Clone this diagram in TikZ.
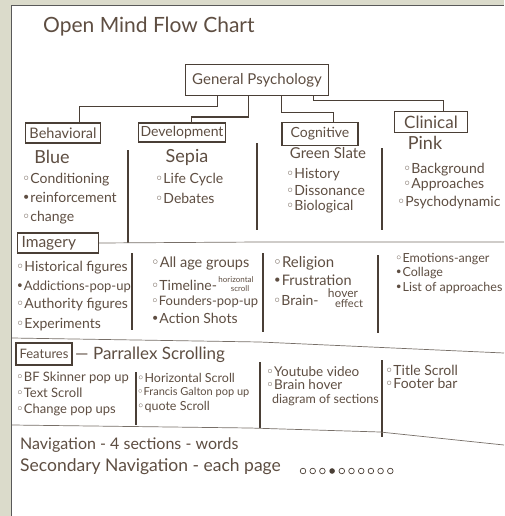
\documentclass[tikz,border=0pt]{standalone}
\usepackage{fontspec}
\setmainfont{Lato}
\newfontfamily\dejavu{DejaVu Sans}
\definecolor{ink}{HTML}{4A3F36}
\definecolor{pencil}{HTML}{5E4E42}
\definecolor{frame}{HTML}{DBDBCB}
\newcommand\ob{{\dejavu\char"25E6}}
\newcommand\fb{{\dejavu\char"2022}}
\newcommand\fsz[1]{\fontsize{#1}{#1}\selectfont}
\begin{document}
\begin{tikzpicture}[x=1pt,y=-1pt,
  txt/.style={anchor=west,inner sep=0pt,text=pencil,font=\fsz{14}},
  sub/.style={inner sep=0pt,text=pencil,font=\fsz{18}},
  cat/.style={draw=ink,line width=1.1pt,inner sep=2pt,text=pencil,font=\fsz{14.5}},
  vline/.style={draw=ink,line width=1.4pt},
  hline/.style={draw=ink!75,line width=0.7pt},
  conn/.style={draw=ink,line width=1pt}]
\useasboundingbox (0,0) rectangle (504,516);
\fill[frame] (0,0) rectangle (504,516);
\fill[white] (11,5) rectangle (504,516);
\draw[gray!70!black,line width=0.8pt] (11,516) -- (11,5) -- (504,5);

% title
\node[txt,font=\fsz{21}] (title) at (43,27) {Open Mind Flow Chart};

% hierarchy
\node[cat,minimum width=143,minimum height=31,font=\fsz{15}] (gp) at (257,80) {General Psychology};
\node[cat,minimum width=75,minimum height=20] (beh) at (63,133) {Behavioral};
\node[cat,minimum width=80,minimum height=19,font=\fsz{14}] (dev) at (182,132.5) {Development};
\node[cat,minimum width=76,minimum height=23,font=\fsz{14}] (cog) at (320,134) {Cognitive};
\node[cat,minimum width=73,minimum height=21,font=\fsz{17}] (cli) at (431,122) {Clinical};

\coordinate (j1) at (217,107); \coordinate (k1) at (79,107);
\coordinate (j2) at (248,117); \coordinate (k2) at (191,117);
\coordinate (j3) at (281,113); \coordinate (k3) at (333,113);
\coordinate (j4) at (313,101); \coordinate (k4) at (443,101);
\draw[conn] (gp.south -| j1) -- (j1) -- (k1) -- (k1 |- beh.north);
\draw[conn] (gp.south -| j2) -- (j2) -- (k2) -- (k2 |- dev.north);
\draw[conn] (gp.south -| j3) -- (j3) -- (k3) -- (k3 |- cog.north);
\draw[conn] (gp.south -| j4) -- (j4) -- (k4) -- (k4 |- cli.north);

\node[sub] (blue) at (52,157) {Blue};
\node[sub] (sepia) at (187,157) {Sepia};
\node[sub,font=\fsz{15}] (green) at (328,153) {Green Slate};
\node[sub] (pink) at (425,143) {Pink};

% top section items
\node[txt] (b1) at (22,180) {\ob Conditioning};
\node[txt] (b2) at (22,197) {\fb reinforcement};
\node[txt] (b3) at (22,218) {\ob change};
\node[txt] (d1) at (155,180) {\ob Life Cycle};
\node[txt] (d2) at (155,198) {\ob Debates};
\node[txt] (c1) at (286,175) {\ob History};
\node[txt] (c2) at (286,190) {\ob Dissonance};
\node[txt] (c3) at (286,207) {\ob Biological};
\node[txt] (p1) at (403,170) {\ob Background};
\node[txt] (p2) at (403,185) {\ob Approaches};
\node[txt] (p3) at (397,203) {\ob Psychodynamic};

\draw[vline] (128,150) -- (128,243);
\draw[vline] (257,143) -- (257,230);
\draw[vline] (382,148) -- (382,230);

% imagery section
\node[cat,anchor=west,minimum height=20,inner xsep=4pt,text width=73,align=left,font=\fsz{15.5}] (img) at (17,243) {Imagery};
\draw[hline] (img.east) -- (260,242) -- (504,242);

\node[txt] (i1) at (16,268) {\ob Historical figures};
\node[txt,font=\fsz{13}] (i2) at (16,287) {\fb Addictions-pop-up};
\node[txt] (i3) at (16,305) {\ob Authority figures};
\node[txt] (i4) at (16,325) {\ob Experiments};
\node[txt,font=\fsz{14.5}] (i5) at (151,263) {\ob All age groups};
\node[txt] (i6) at (151,285) {\ob Timeline-};
\node[txt,font=\fsz{8},anchor=center] (i6a) at (236,280) {horizontal};
\node[txt,font=\fsz{8},anchor=center] (i6b) at (240,289) {scroll};
\node[txt,font=\fsz{13}] (i7) at (151,302) {\ob Founders-pop-up};
\node[txt] (i8) at (151,318) {\fb Action Shots};
\node[txt,font=\fsz{15}] (i9) at (273,263) {\ob Religion};
\node[txt,font=\fsz{14.5}] (i10) at (273,280) {\fb Frustration};
\node[txt] (i11) at (273,300) {\ob Brain-};
\node[txt,font=\fsz{12},anchor=center] (i11a) at (343,293) {hover};
\node[txt,font=\fsz{11},anchor=center] (i11b) at (349,304) {effect};
\node[txt,font=\fsz{12.5}] (i12) at (395,259) {\ob Emotions-anger};
\node[txt,font=\fsz{12.5}] (i13) at (395,273) {\fb Collage};
\node[txt,font=\fsz{12.5}] (i14) at (395,288) {\fb List of approaches};

\draw[vline] (132,253) -- (132,330);
\draw[vline] (263,253) -- (263,332);
\draw[vline] (378,255) -- (378,333);

\draw[hline] (12,338) -- (260,342) -- (504,353);

% features section
\node[cat,minimum width=56,minimum height=22,font=\fsz{13}] (feat) at (44,354) {Features};
\node[txt,font=\fsz{17}] (par) at (75,355) {--- Parrallex Scrolling};

\node[txt,font=\fsz{13}] (f1) at (16,378) {\ob BF Skinner pop up};
\node[txt,font=\fsz{13}] (f2) at (16,393) {\ob Text Scroll};
\node[txt,font=\fsz{13}] (f3) at (16,410) {\ob Change pop ups};
\node[txt,font=\fsz{12.5}] (f4) at (137,378) {\ob Horizontal Scroll};
\node[txt,font=\fsz{11}] (f5) at (137,392) {\ob Francis Galton pop up};
\node[txt,font=\fsz{12.5}] (f6) at (137,407) {\ob quote Scroll};
\node[txt,font=\fsz{13.5}] (f7) at (266,372) {\ob Youtube video};
\node[txt,font=\fsz{13.5}] (f8) at (266,385) {\ob Brain hover};
\node[txt,font=\fsz{12.5}] (f9) at (272,400) {diagram of sections};
\node[txt] (f10) at (385,370) {\ob Title Scroll};
\node[txt] (f11) at (385,383) {\ob Footer bar};

\draw[vline] (136,372) -- (136,425);
\draw[vline] (260,362) -- (260,428);
\draw[vline] (382,360) -- (382,437);

\draw[hline] (12,425) -- (250,428) -- (380,432) -- (504,445);

% navigation
\node[txt,font=\fsz{16}] (nav) at (20,445) {Navigation - 4 sections - words};
\node[txt,font=\fsz{17.5}] (snav) at (20,467) {Secondary Navigation - each page};
\foreach \i in {0,...,9}{
  \ifnum\i=3
    \fill[ink] (303+\i*9.7,471) circle (2.8);
  \else
    \draw[ink,line width=0.7pt] (303+\i*9.7,471) circle (2.8);
  \fi
}
\end{tikzpicture}
\end{document}
